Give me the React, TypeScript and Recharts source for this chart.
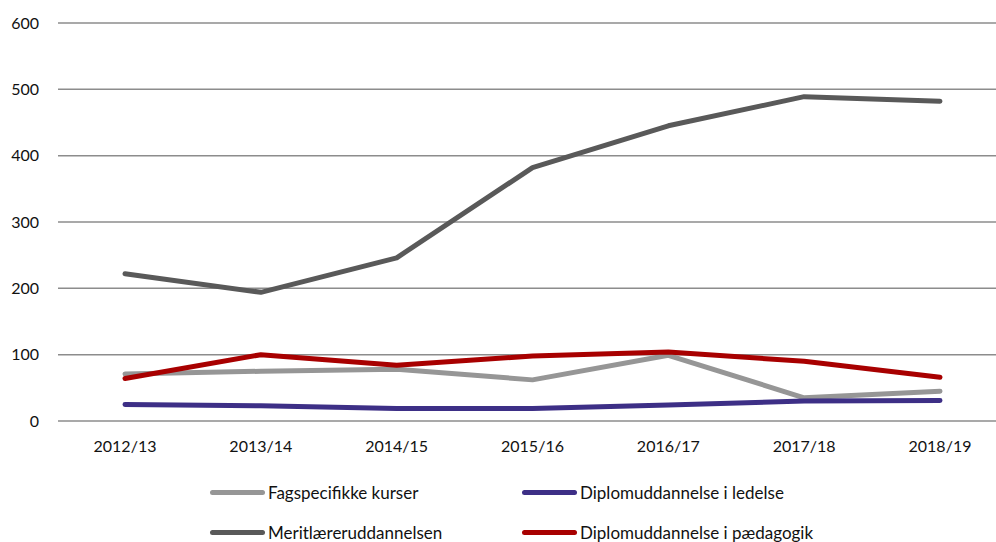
import React from 'react';
import { LineChart, Line, XAxis, YAxis, CartesianGrid, Legend } from 'recharts';

const years = ['2012/13', '2013/14', '2014/15', '2015/16', '2016/17', '2017/18', '2018/19'];
const fagspecifikke = [71, 75, 78, 62, 99, 35, 45];
const meritlaerer = [222, 194, 246, 382, 445, 489, 482];
const diplomLedelse = [25, 23, 19, 19, 24, 30, 31];
const diplomPaedagogik = [64, 100, 84, 98, 104, 90, 66];
const yTicks = [0, 100, 200, 300, 400, 500, 600];

const SERIES = [
  { key: 'fag', name: 'Fagspecifikke kurser', color: '#969696' },
  { key: 'merit', name: 'Meritlæreruddannelsen', color: '#595959' },
  { key: 'ledelse', name: 'Diplomuddannelse i ledelse', color: '#3d2f86' },
  { key: 'paed', name: 'Diplomuddannelse i pædagogik', color: '#a80000' },
];

const data = years.map((year, i) => ({
  year,
  fag: fagspecifikke[i],
  merit: meritlaerer[i],
  ledelse: diplomLedelse[i],
  paed: diplomPaedagogik[i],
}));

// legend laid out in two columns: fag / ledelse on top, merit / paed below
const legendOrder = ['fag', 'ledelse', 'merit', 'paed'];

function LegendBox() {
  return (
    <div
      style={{
        display: 'grid',
        gridTemplateColumns: '312px 300px',
        rowGap: 18,
        paddingLeft: 210,
        fontFamily: 'Lato, sans-serif',
        fontSize: 17,
        color: '#111',
      }}
    >
      {legendOrder.map((k) => {
        const s = SERIES.find((x) => x.key === k)!;
        return (
          <div key={k} style={{ display: 'flex', alignItems: 'center', height: 22 }}>
            <span
              style={{
                display: 'inline-block',
                width: 55,
                height: 5,
                borderRadius: 3,
                background: s.color,
                marginRight: 3,
              }}
            />
            <span>{s.name}</span>
          </div>
        );
      })}
    </div>
  );
}

export default function App() {
  return (
    <div style={{ width: 996, height: 542, overflow: 'hidden', background: '#fff' }}>
      <style>{`body{margin:0}`}</style>
      <LineChart width={1008} height={542} data={data} margin={{ top: 23, right: 0, bottom: 0, left: 0 }}>
        <CartesianGrid vertical={false} stroke="#8c8c8c" strokeWidth={1.5} />
        <XAxis
          dataKey="year"
          axisLine={false}
          tickLine={false}
          height={59}
          tickMargin={14}
          padding={{ left: 67, right: 68 }}
          tick={{ fill: '#111', fontSize: 16, fontFamily: 'Lato, sans-serif' }}
        />
        <YAxis
          domain={[0, 600]}
          ticks={yTicks}
          width={58}
          axisLine={false}
          tickLine={false}
          tickMargin={13}
          tick={{ fill: '#111', fontSize: 16, fontFamily: 'Lato, sans-serif' }}
        />
        <Legend
          content={<LegendBox />}
          wrapperStyle={{ position: 'absolute', top: 481, left: 0, width: 996 }}
        />
        {SERIES.map((s) => (
          <Line
            key={s.key}
            dataKey={s.key}
            name={s.name}
            stroke={s.color}
            strokeWidth={5}
            strokeLinecap="round"
            strokeLinejoin="round"
            dot={false}
            activeDot={false}
            isAnimationActive={false}
          />
        ))}
      </LineChart>
    </div>
  );
}
